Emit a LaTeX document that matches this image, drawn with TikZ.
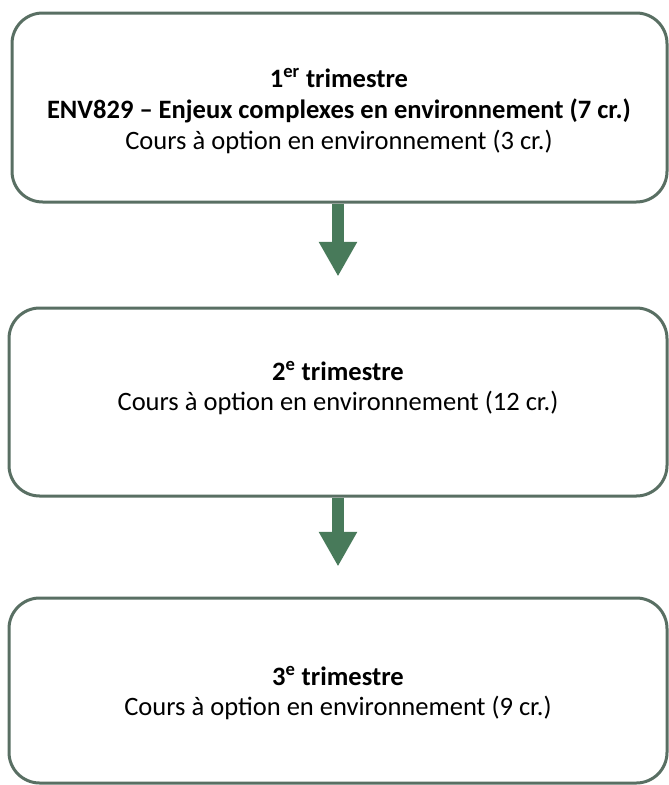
\documentclass[tikz,border=0pt]{standalone}
\usepackage{fontspec}
\setmainfont{Carlito}
\usetikzlibrary{arrows.meta}
\definecolor{boxline}{RGB}{89,111,99}
\definecolor{arrowgreen}{RGB}{72,122,90}
\tikzset{
  stagebox/.style={draw=boxline, line width=2.25pt, rounded corners=23pt, fill=white, inner sep=0pt},
  stagetext/.style={align=center, font=\fontsize{19.9pt}{23pt}\selectfont, inner sep=0pt},
  flowarrow/.style={draw=arrowgreen, line width=9pt, -{Triangle[width=27pt,length=26pt]}, shorten >=22.5pt}
}
\begin{document}
\begin{tikzpicture}[x=0.75pt,y=-0.75pt]
\useasboundingbox (0,0) rectangle (668,785);
\node[stagebox, minimum width=491.25pt, minimum height=141.75pt] (b1) at (339.5,107.5) {};
\node[stagebox, minimum width=493.5pt, minimum height=141pt] (b2) at (338,402) {};
\node[stagebox, minimum width=493.5pt, minimum height=138.75pt] (b3) at (338,690.5) {};
\draw[flowarrow] (b2.north |- b1.south) -- (b2.north);
\draw[flowarrow] (b3.north |- b2.south) -- (b3.north);
\node[stagetext] (t1) at (339,111) {\textbf{1\textsuperscript{er} trimestre}\\ \textbf{ENV829 – Enjeux complexes en environnement (7 cr.)}\\ Cours à option en environnement (3 cr.)};
\node[stagetext] (t2) at (338,388) {\textbf{2\textsuperscript{e} trimestre}\\ Cours à option en environnement (12 cr.)};
\node[stagetext] (t3) at (338,693) {\textbf{3\textsuperscript{e} trimestre}\\ Cours à option en environnement (9 cr.)};
\end{tikzpicture}
\end{document}
